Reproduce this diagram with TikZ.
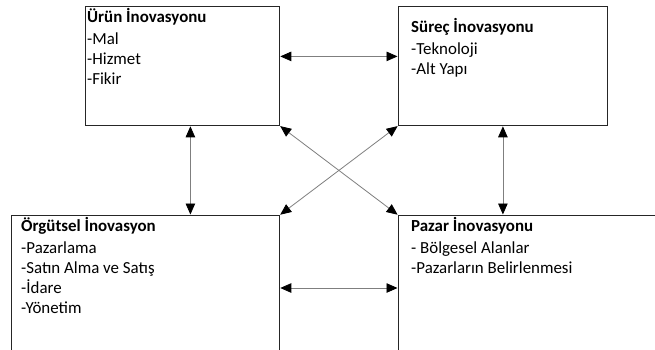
\documentclass[tikz,border=0pt]{standalone}
\usepackage{fontspec}
\setmainfont{Carlito}
\usetikzlibrary{arrows.meta,positioning,calc}
\definecolor{boxline}{HTML}{262626}
\definecolor{linkgrey}{HTML}{7F7F7F}

\begin{document}
\begin{tikzpicture}[
  x=1pt, y=-1pt,
  font=\fontsize{16.9}{20}\selectfont,
  box/.style={draw=boxline, line width=0.8pt, rectangle, anchor=north west,
    inner sep=0pt},
  label/.style={anchor=base west, align=left, inner sep=0pt},
  link/.style={{Triangle[length=11pt,width=9.5pt,black]}-{Triangle[length=11pt,width=9.5pt,black]},
    line width=0.8pt, draw=linkgrey, shorten <=0.5pt, shorten >=0.5pt}
]
\clip (0,0) rectangle (655,349);
\fill[white] (0,0) rectangle (655,349);

\node[box, minimum width=194pt, minimum height=119pt] (urun) at (85,6) {};
\node[box, minimum width=209pt, minimum height=119pt] (surec) at (398,6) {};
\node[box, minimum width=268pt, minimum height=200pt] (orgut) at (11,215) {};
\node[box, minimum width=300pt, minimum height=200pt] (pazar) at (398,215) {};

% texts, anchored at the baseline of their last line
\node[label] (urunText) at (87,84) {\textbf{Ürün İnovasyonu}\\[1.5pt]-Mal\\-Hizmet\\-Fikir};
\node[label] (surecText) at (411,74) {\textbf{Süreç İnovasyonu}\\[1.5pt]-Teknoloji\\-Alt Yapı};
\node[label] (orgutText) at (21,313) {\textbf{Örgütsel İnovasyon}\\[1.5pt]-Pazarlama\\-Satın Alma ve Satış\\-İdare\\-Yönetim};
\node[label] (pazarText) at (411,273) {\textbf{Pazar İnovasyonu}\\[1.5pt]- Bölgesel Alanlar\\-Pazarların Belirlenmesi};

% links between the four boxes
\draw[link] ([yshift=9.5pt]urun.east) -- ([yshift=9.5pt]surec.west);
\draw[link] ([yshift=-73pt]orgut.north east) -- ([yshift=-73pt]pazar.north west);
\draw[link] ([xshift=8pt]urun.south) -- ([xshift=8pt]urun.south |- orgut.north);
\draw[link] (surec.south) -- (surec.south |- pazar.north);
\draw[link] (urun.south east) -- (pazar.north west);
\draw[link] (surec.south west) -- (orgut.north east);

\end{tikzpicture}
\end{document}
